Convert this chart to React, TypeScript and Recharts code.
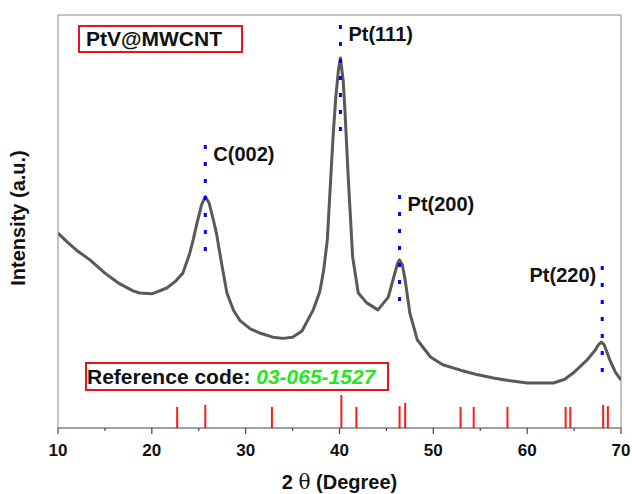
import {
    ComposedChart,
    Line,
    XAxis,
    YAxis,
    ReferenceLine,
    ReferenceDot,
} from 'recharts';

// XRD pattern (2θ in degrees, intensity in arbitrary units 0-100)
const twoTheta = [
    10.0, 11.0, 12.0, 13.4, 15.0, 16.5, 18.0, 18.7, 20.0, 21.6, 22.5, 23.3, 24.0, 24.4, 24.8, 25.3,
    25.7, 26.1, 26.6, 26.9, 27.5, 28.0, 28.7, 29.4, 30.5, 31.5, 32.9, 34.0, 35.0, 36.0, 37.2, 37.9,
    38.3, 38.7, 39.3, 39.6, 39.9, 40.1, 40.4, 40.6, 40.9, 41.4, 42.0, 42.9, 44.1, 45.2, 45.9, 46.2,
    46.4, 46.7, 47.0, 47.5, 48.3, 49.7, 51.0, 52.9, 54.5, 56.4, 58.0, 60.0, 62.8, 64.0, 64.9, 66.4,
    67.3, 67.6, 67.9, 68.2, 68.8, 69.4, 70.0,
];
const intensity = [
    47.2, 45, 43, 40.7, 37.5, 35, 33.2, 32.7, 32.5, 33.9, 35.5, 37.5, 42, 45.5, 49.5, 54,
    56, 54.5, 50, 47, 39, 32.7, 28.5, 26, 24, 23, 22, 21.7, 22, 23.5, 28.6, 33,
    38, 45.5, 70, 80, 87, 89.6, 84, 76, 62, 41.4, 32.7, 30.3, 28.6, 31.7, 37.5, 40,
    40.7, 39.5, 35.8, 27.8, 21.3, 17.2, 15.3, 14, 13, 12.1, 11.5, 10.9, 10.9, 11.8, 13.3, 16.5,
    19, 20.2, 20.8, 20.2, 16.5, 13.5, 11.6,
];

// reference pattern 03-065-1527 (stick positions and heights)
const refPos = [22.7, 25.7, 32.8, 40.2, 41.8, 46.4, 47.0, 52.9, 54.3, 57.9, 64.1, 64.6, 68.1, 68.6];
const refHeight = [5.1, 5.6, 5.1, 8.0, 5.1, 5.3, 6.1, 5.1, 5.1, 5.1, 5.1, 5.1, 5.6, 5.3];

// peak markers
const peakNames = ['C(002)', 'Pt(111)', 'Pt(200)', 'Pt(220)'];
const peakPos = [25.7, 40.1, 46.4, 68.0];
const peakTop = [68.5, 97.6, 56.4, 39.2];
const peakBottom = [40, 69.7, 28.1, 11.1];

const xTicks = [10, 15, 20, 25, 30, 35, 40, 45, 50, 55, 60, 65, 70];

const data = twoTheta.map((x, i) => ({ x, y: intensity[i] }));

const FONT = 'Arial, "Liberation Sans", sans-serif';

function XTick(props: any) {
    const { x, y, payload } = props;
    const major = payload.value % 10 === 0;
    return (
        <g>
            <line x1={x} y1={y} x2={x} y2={y + (major ? 6 : 3)} stroke="#444" strokeWidth={1.2} />
            {major && (
                <text x={x} y={y + 28} textAnchor="middle" fontSize={17} fontWeight="bold" fontFamily={FONT} fill="#111">
                    {payload.value}
                </text>
            )}
        </g>
    );
}

function PeakLabel(props: any) {
    const { viewBox, value } = props;
    const left = value === 'Pt(220)';
    return (
        <text
            x={viewBox.x + (left ? -6 : 8)}
            y={viewBox.y + 16}
            textAnchor={left ? 'end' : 'start'}
            fontSize={20}
            fontWeight="bold"
            fontFamily={FONT}
            fill="#111"
        >
            {value}
        </text>
    );
}

export default function App() {
    return (
        <div style={{ position: 'absolute', left: 0, top: 0, width: 632, height: 494, background: '#fff' }}>
            <ComposedChart width={632} height={494} data={data} margin={{ top: 15, right: 11, bottom: 0, left: 0 }}>
                <XAxis
                    type="number"
                    dataKey="x"
                    domain={[10, 70]}
                    ticks={xTicks}
                    interval={0}
                    allowDataOverflow
                    height={66}
                    tickSize={0}
                    tickMargin={0}
                    tickLine={false}
                    stroke="#444"
                    strokeWidth={1.2}
                    tick={<XTick />}
                    label={{
                        content: ({ viewBox }: any) => (
                            <text
                                x={viewBox.x + viewBox.width / 2}
                                y={viewBox.y + 61}
                                textAnchor="middle"
                                fontSize={20}
                                fontWeight="bold"
                                fontFamily={FONT}
                                fill="#111"
                            >
                                2{' '}
                                <tspan fontWeight="normal" fontFamily='"DejaVu Serif", serif'>θ</tspan>
                                {' '}(Degree)
                            </text>
                        ),
                    }}
                />
                <YAxis
                    type="number"
                    domain={[0, 100]}
                    width={58}
                    tick={false}
                    tickLine={false}
                    stroke="#888"
                    label={{
                        content: () => (
                            <text
                                x={25}
                                y={218}
                                transform="rotate(-90 25 218)"
                                textAnchor="middle"
                                fontSize={20}
                                fontWeight="bold"
                                fontFamily={FONT}
                                fill="#111"
                            >
                                Intensity (a.u.)
                            </text>
                        ),
                    }}
                />

                {/* frame */}
                <ReferenceLine y={100} stroke="#888" />
                <ReferenceLine x={70} stroke="#888" />

                {/* reference sticks */}
                {refPos.map((p, i) => (
                    <ReferenceLine
                        key={'r' + i}
                        segment={[{ x: p, y: 0 }, { x: p, y: refHeight[i] }]}
                        stroke="#ff1a1a"
                        strokeWidth={2}
                    />
                ))}

                <Line
                    type="linear"
                    dataKey="y"
                    stroke="#595959"
                    strokeWidth={3}
                    strokeLinejoin="round"
                    dot={false}
                    isAnimationActive={false}
                />

                {/* peak markers */}
                {peakPos.map((p, i) => (
                    <ReferenceLine
                        key={'p' + i}
                        segment={[{ x: p, y: peakTop[i] }, { x: p, y: peakBottom[i] }]}
                        stroke="#0000ff"
                        strokeWidth={3}
                        strokeDasharray="4 13"
                    />
                ))}
                {peakPos.map((p, i) => (
                    <ReferenceDot
                        key={'l' + i}
                        x={p}
                        y={peakTop[i]}
                        r={0}
                        stroke="none"
                        fill="none"
                        label={<PeakLabel value={peakNames[i]} />}
                    />
                ))}
            </ComposedChart>

            <div
                style={{
                    position: 'absolute', left: 78, top: 25, width: 155, height: 24,
                    border: '2px solid #e8141c', fontFamily: FONT, fontWeight: 'bold', fontSize: 21,
                    lineHeight: '24px', paddingLeft: 6, boxSizing: 'content-box', color: '#111',
                }}
            >
                PtV@MWCNT
            </div>
            <div
                style={{
                    position: 'absolute', left: 85, top: 362, width: 300, height: 25,
                    border: '2px solid #e8141c', fontFamily: FONT, fontWeight: 'bold', fontSize: 21,
                    lineHeight: '25px', paddingLeft: 0, color: '#111', whiteSpace: 'nowrap',
                }}
            >
                Reference code: <span style={{ color: '#22e822', fontStyle: 'italic' }}>03-065-1527</span>
            </div>
        </div>
    );
}
